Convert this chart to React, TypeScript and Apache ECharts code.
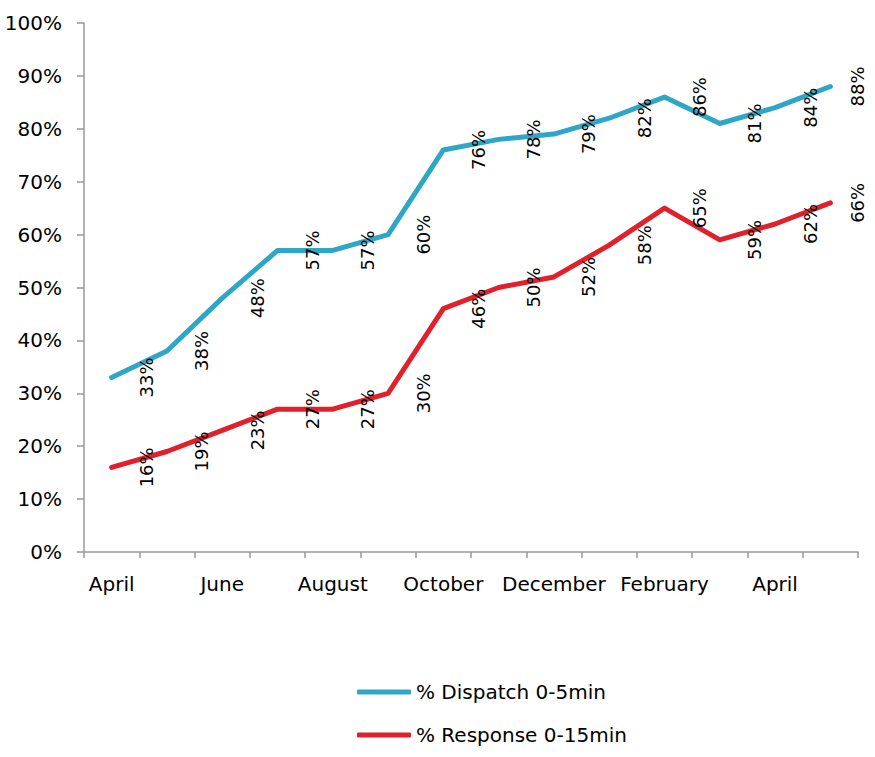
import React, { useEffect, useRef } from "react";
import * as echarts from "echarts";

// Months covered by the report (two consecutive Aprils/Mays)
const months = [
  "April", "May", "June", "July", "August", "September", "October",
  "November", "December", "January", "February", "March", "April", "May",
];

// Share of calls handled within the target time, in percent
const dispatch0to5 = [33, 38, 48, 57, 57, 60, 76, 78, 79, 82, 86, 81, 84, 88];
const response0to15 = [16, 19, 23, 27, 27, 30, 46, 50, 52, 58, 65, 59, 62, 66];

const seriesNames = ["% Dispatch 0-5min", "% Response 0-15min"];
const seriesColors = ["#2ea6c6", "#e0202a"];

const FONT = "DejaVu Sans";

function lineSeries(name: string, values: number[], color: string) {
  const last = values.length - 1;
  return {
    name,
    type: "line",
    data: values.map((v, i) =>
      i === last ? { value: v, label: { offset: [0, 27] } } : v
    ),
    symbol: "circle",
    symbolSize: 1,
    showSymbol: true,
    itemStyle: { color },
    lineStyle: { color, width: 5, cap: "round", join: "round" },
    label: {
      show: true,
      position: "inside",
      rotate: 90,
      offset: [0, 35],
      align: "center",
      verticalAlign: "middle",
      formatter: "{c}%",
      color: "#000",
      fontFamily: FONT,
      fontSize: 18,
    },
    emphasis: { disabled: true },
  };
}

export default function App() {
  const ref = useRef<HTMLDivElement>(null);

  useEffect(() => {
    if (!ref.current) return;
    const chart = echarts.init(ref.current, null, { renderer: "svg" });
    chart.setOption({
      animation: false,
      backgroundColor: "#fff",
      textStyle: { fontFamily: FONT },
      grid: { left: 84, right: 17, top: 23, bottom: 205, containLabel: false },
      legend: {
        orient: "vertical",
        left: 352,
        top: 675,
        itemGap: 19,
        itemWidth: 54,
        itemHeight: 5,
        icon: "roundRect",
        data: seriesNames,
        textStyle: { fontFamily: FONT, fontSize: 20, color: "#000", lineHeight: 24 },
      },
      xAxis: {
        type: "category",
        data: months,
        boundaryGap: true,
        axisLine: { lineStyle: { color: "#999", width: 1.5 } },
        axisTick: { show: true, interval: 0, length: 6, lineStyle: { color: "#999", width: 1.5 } },
        axisLabel: {
          interval: 1,
          margin: 22,
          color: "#000",
          fontFamily: FONT,
          fontSize: 20,
        },
        splitLine: { show: false },
      },
      yAxis: {
        type: "value",
        min: 0,
        max: 100,
        interval: 10,
        axisLine: { show: true, lineStyle: { color: "#999", width: 1.5 } },
        axisTick: { show: true, length: 7, lineStyle: { color: "#999", width: 1.5 } },
        axisLabel: {
          formatter: "{value}%",
          margin: 22,
          color: "#000",
          fontFamily: FONT,
          fontSize: 20,
        },
        splitLine: { show: false },
      },
      series: [
        lineSeries(seriesNames[0], dispatch0to5, seriesColors[0]),
        lineSeries(seriesNames[1], response0to15, seriesColors[1]),
      ],
    });
    return () => chart.dispose();
  }, []);

  return (
    <div
      ref={ref}
      style={{ position: "absolute", left: 0, top: 0, width: 875, height: 757 }}
    />
  );
}
